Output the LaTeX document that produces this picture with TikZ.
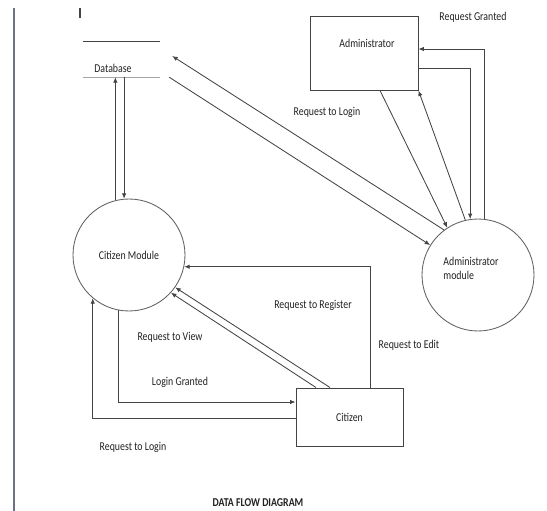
\documentclass[tikz,border=0pt]{standalone}
\usepackage{fontspec}
\setmainfont{Carlito}[FakeStretch=0.82]
\usetikzlibrary{arrows.meta}
\definecolor{ln}{HTML}{444444}
\definecolor{tx}{HTML}{222222}
\tikzset{
  arr/.style={draw=ln, line width=0.85pt, -{Latex[length=5.5pt,width=4.5pt]}},
  conn/.style={draw=ln, line width=0.85pt},
  proc/.style={circle, draw=ln!85, line width=0.85pt, minimum size=112pt, inner sep=0pt},
  ent/.style={rectangle, draw=ln, line width=0.95pt, inner sep=0pt},
  lbl/.style={text=tx, inner sep=1pt, font=\fontsize{12}{14}\selectfont},
}
\begin{document}
\begin{tikzpicture}[x=1pt, y=-1pt]
\useasboundingbox (0,0) rectangle (547,511);
% margin line and mark
\draw[color={rgb,255:red,107;green,115;blue,133}, line width=1.2pt] (14,8) -- (14,511);
\draw[ln, line width=1.2pt] (80,8) -- (80,18);
% database store
\node[minimum width=77pt, minimum height=35pt, inner sep=0pt] (db) at (121.5,59.5) {};
\draw[ln, line width=1pt] (db.north west) -- (db.north east);
\draw[gray!70, line width=1pt] (db.south west) -- (db.south east);
\node[lbl] (dbtxt) at (113,68) {Database};
% nodes
\node[proc, label={[lbl]center:Citizen Module}] (cm) at (129,255) {};
\node[proc] (am) at (478,275) {};
\node[lbl, align=left] (amtxt) at (471,268) {Administrator\\module};
\node[ent, minimum width=108pt, minimum height=74pt] (admin) at (364,53) {};
\node[lbl] (admintxt) at (367,43) {Administrator};
\node[ent, minimum width=107pt, minimum height=58pt, lbl] (cit) at (349.5,417) {Citizen};
% database <-> citizen module
\draw[arr] (cm.104.5) -- (cm.104.5 |- db.south);
\draw[arr] (cm.95 |- db.south) -- (cm.95);
% database <-> administrator module
\draw[arr] (am.127) -- ([xshift=12pt,yshift=3.5pt]db.east);
\draw[arr] ([xshift=9pt]db.south east) -- (am.148);
% administrator <-> administrator module
\draw[arr] ([xshift=16pt]admin.south) -- (am.123);
\draw[arr] (am.103) -- (admin.south east);
\draw[arr] (am.83) |- ([yshift=4pt]admin.east);
\draw[arr] ([yshift=-15pt]admin.east) -| (am.98);
% citizen <-> citizen module
\draw[arr] ([xshift=20.5pt]cit.north) |- (cm.-12.3);
\draw[arr] ([xshift=-33.5pt]cit.north) -- (cm.-42);
\draw[arr] ([xshift=-19.5pt]cit.north) -- (cm.-35);
\draw[arr] (cm.259) |- ([yshift=15pt]cit.west);
\draw[arr] ([yshift=-1pt]cit.west) -| (cm.230);
% labels
\node[lbl] (l1) at (473,17) {Request Granted};
\node[lbl] (l2) at (327,112) {Request to Login};
\node[lbl] (l3) at (313,305) {Request to Register};
\node[lbl] (l4) at (170,337) {Request to View};
\node[lbl] (l5) at (180,382) {Login Granted};
\node[lbl] (l6) at (133,447) {Request to Login};
\node[lbl] (l7) at (409,345) {Request to Edit};
\node[lbl, font=\fontsize{12}{14}\selectfont\bfseries] (title) at (258,503) {DATA FLOW DIAGRAM};
\end{tikzpicture}
\end{document}
